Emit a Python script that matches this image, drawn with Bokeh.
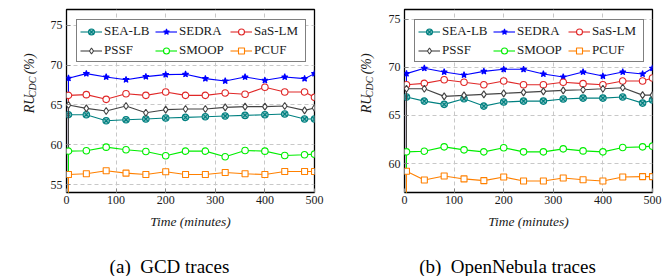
import math
from bokeh.plotting import figure
from bokeh.layouts import row, column
from bokeh.models import Legend, LegendItem, FixedTicker
from bokeh.core.properties import value
from bokeh.embed import file_html
from bokeh.resources import INLINE

# ---------------- data ----------------
time_min = [4, 40, 80, 120, 160, 200, 240, 280, 320, 360, 400, 440, 480, 500]
start_value = 0  # every series rises from 0 at the first time stamp

series_names = ["SEA-LB", "SEDRA", "SaS-LM", "PSSF", "SMOOP", "PCUF"]

gcd_sea_lb = [63.78, 63.78, 63.02, 63.15, 63.23, 63.36, 63.44, 63.52, 63.61, 63.69, 63.78, 63.86, 63.23, 63.23]
gcd_sedra = [68.36, 68.94, 68.52, 68.18, 68.56, 68.81, 68.86, 68.31, 68.02, 68.52, 68.10, 68.52, 68.31, 68.94]
gcd_sas_lm = [66.21, 66.30, 65.71, 66.42, 66.21, 66.64, 66.21, 66.21, 66.51, 66.34, 67.22, 66.64, 66.64, 65.96]
gcd_pssf = [65.00, 64.57, 64.24, 64.87, 64.03, 64.41, 64.49, 64.49, 64.70, 64.79, 64.79, 64.87, 64.32, 64.62]
gcd_smoop = [59.20, 59.24, 59.70, 59.37, 59.16, 58.61, 59.20, 59.20, 58.49, 59.28, 59.20, 58.65, 58.74, 58.82]
gcd_pcuf = [56.26, 56.35, 56.73, 56.43, 56.26, 56.60, 56.26, 56.26, 56.51, 56.35, 56.26, 56.64, 56.64, 56.64]

on_sea_lb = [66.91, 66.49, 66.15, 66.73, 65.97, 66.39, 66.49, 66.49, 66.70, 66.80, 66.80, 66.91, 66.28, 66.60]
on_sedra = [69.34, 69.90, 69.51, 69.20, 69.58, 69.79, 69.79, 69.30, 68.99, 69.51, 69.09, 69.51, 69.30, 69.90]
on_sas_lm = [68.19, 68.33, 68.71, 68.44, 68.19, 68.57, 68.19, 68.19, 68.44, 68.30, 68.19, 68.57, 68.57, 68.89]
on_pssf = [67.77, 67.77, 66.98, 67.08, 67.19, 67.29, 67.40, 67.50, 67.60, 67.67, 67.77, 67.88, 67.11, 67.11]
on_smoop = [61.22, 61.29, 61.74, 61.43, 61.22, 61.64, 61.22, 61.22, 61.53, 61.32, 61.22, 61.67, 61.74, 61.81]
on_pcuf = [59.20, 58.30, 58.72, 58.41, 58.23, 58.61, 58.20, 58.20, 58.51, 58.33, 58.20, 58.61, 58.65, 58.65]

x_ticks = [0, 100, 200, 300, 400, 500]
gcd_y_ticks = [55, 60, 65, 70, 75]
on_y_ticks = [60, 65, 70, 75]

x_label = "Time (minutes)"
y_label_parts = ["RU", "CDC", "(%)"]
captions = ["(a)\u2002GCD traces", "(b)\u2002OpenNebula traces"]

# ---------------- styles ----------------
SERIF = "Liberation Serif"
TXT = "#1a1a1a"
styles = [
    dict(color="#008080", marker="circle_x", fill="#7fbfbf", size=6.5),
    dict(color="#0000ff", marker="star", fill="#0000ff", size=6.5),
    dict(color="#e02828", marker="circle", fill="white", size=6.5),
    dict(color="#444444", marker="diamond", fill="white", size=7),
    dict(color="#00ee00", marker="circle", fill="white", size=6.5),
    dict(color="#ff8000", marker="square", fill="white", size=6),
]

YLAB_W = 40
MAIN_H = 240
CAP_H = 36


def bare_figure(w, h):
    f = figure(width=w, height=h, x_range=(0, w), y_range=(0, h),
               x_axis_type=None, y_axis_type=None, output_backend="svg",
               toolbar_location=None, min_border=0)
    f.grid.visible = False
    f.outline_line_color = None
    return f


def make_subplot(all_series, y_start, y_end, y_ticks, caption, border_left, border_right,
                 ylab_base, cap_center):
    # ---- y label strip:  RU_CDC (%) ----
    yl = bare_figure(YLAB_W, MAIN_H)
    ang = math.pi / 2
    yl.text(x=[ylab_base], y=[104], text=[y_label_parts[0]], angle=ang,
            text_font=value(SERIF), text_font_style="italic", text_font_size="14px",
            text_color=TXT, text_align="left", text_baseline="alphabetic")
    yl.text(x=[ylab_base + 3], y=[125], text=[y_label_parts[1]], angle=ang,
            text_font=value(SERIF), text_font_style="italic", text_font_size="10px",
            text_color=TXT, text_align="left", text_baseline="alphabetic")
    yl.text(x=[ylab_base], y=[155], text=[y_label_parts[2]], angle=ang,
            text_font=value(SERIF), text_font_style="italic", text_font_size="14px",
            text_color=TXT, text_align="left", text_baseline="alphabetic")

    # ---- main plot ----
    p = figure(width=336 - YLAB_W, height=MAIN_H, output_backend="svg", toolbar_location=None,
               x_range=(0, 500), y_range=(y_start, y_end),
               min_border_left=border_left, min_border_right=border_right,
               min_border_top=9, min_border_bottom=MAIN_H - 192)
    p.outline_line_color = "black"
    p.outline_line_width = 1.3

    p.xaxis.ticker = FixedTicker(ticks=x_ticks)
    p.yaxis.ticker = FixedTicker(ticks=y_ticks)
    for ax in (p.xaxis[0], p.yaxis[0]):
        ax.axis_line_color = None
        ax.major_tick_in = 4
        ax.major_tick_out = 0
        ax.major_tick_line_color = "#888888"
        ax.minor_tick_line_color = None
        ax.major_label_text_font = SERIF
        ax.major_label_text_font_size = "12px"
        ax.major_label_text_color = TXT
    p.yaxis.major_label_standoff = 4
    p.xaxis.major_label_standoff = 3
    p.xaxis.axis_label = x_label
    p.xaxis.axis_label_text_font = SERIF
    p.xaxis.axis_label_text_font_style = "italic"
    p.xaxis.axis_label_text_font_size = "13.5px"
    p.xaxis.axis_label_text_color = TXT
    p.xaxis.axis_label_standoff = 7

    p.xgrid.grid_line_color = "#c8c8c8"
    p.ygrid.grid_line_color = "#c8c8c8"
    p.xgrid.grid_line_dash = "4 3"
    p.ygrid.grid_line_dash = "4 3"

    items = []
    for name, vals, st in zip(series_names, all_series, styles):
        lx = [time_min[0]] + time_min
        ly = [start_value] + vals
        lr = p.line(lx, ly, line_color=st["color"], line_width=1.1)
        sr = p.scatter(time_min, vals, marker=st["marker"], size=st["size"],
                       line_color=st["color"], fill_color=st["fill"], line_width=1.1)
        items.append(LegendItem(label=name, renderers=[lr, sr]))

    legend = Legend(items=items, location="top_left", orientation="horizontal", ncols=3,
                    margin=10, padding=3, spacing=3,
                    glyph_width=22, glyph_height=15, label_height=15, label_width=48,
                    label_standoff=2,
                    label_text_font=SERIF, label_text_font_size="13px",
                    label_text_color=TXT,
                    border_line_color="black", border_line_width=1.2,
                    background_fill_color="white", background_fill_alpha=1)
    p.add_layout(legend, "center")

    # ---- caption strip ----
    cap = bare_figure(336, CAP_H)
    cap.text(x=[cap_center], y=[10.5], text=[caption], text_font=value(SERIF),
             text_font_size="19px", text_color="black", text_align="center",
             text_baseline="alphabetic")

    return column(row(yl, p), cap)


left = make_subplot([gcd_sea_lb, gcd_sedra, gcd_sas_lm, gcd_pssf, gcd_smoop, gcd_pcuf],
                    54, 77, gcd_y_ticks, captions[0], 66 - YLAB_W, 22, 28.5, 169)
right = make_subplot([on_sea_lb, on_sedra, on_sas_lm, on_pssf, on_smoop, on_pcuf],
                     57, 76, on_y_ticks, captions[1], 68 - YLAB_W, 20, 29.5, 171)

page = row(left, right)
open("out.html", "w").write(file_html(page, INLINE))
